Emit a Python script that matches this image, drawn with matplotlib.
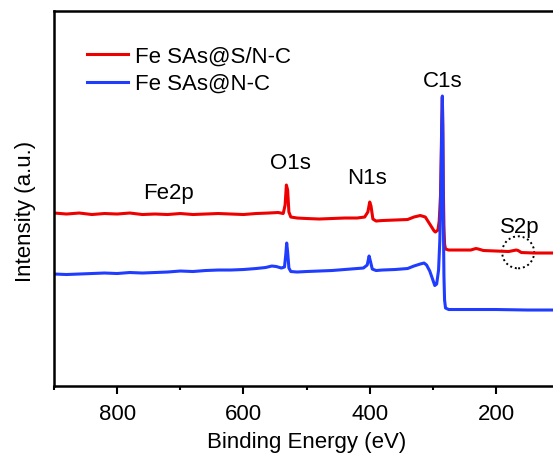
import matplotlib.pyplot as plt
import matplotlib.transforms as mtransforms
from matplotlib.patches import Circle

plt.rcParams['font.family'] = ['Liberation Sans', 'DejaVu Sans']

# binding energy (eV) and intensity (a.u.)
energy_sn = [900, 880, 860, 840, 820, 800, 780, 760, 740, 720, 700, 680, 660, 640,
             620, 600, 580, 560, 545, 537, 534, 532, 530, 528, 525, 515, 500, 480,
             460, 440, 420, 408, 403, 400, 398, 395, 390, 380, 360, 340, 330, 320,
             312, 305, 298, 296, 292, 290, 288, 287, 286, 285, 284.3, 283.5, 282.5,
             281.5, 280, 275, 260, 240, 232, 228, 220, 200, 180, 168, 165, 160, 140,
             120, 110]
inten_sn = [173, 172, 173, 171.5, 172.5, 172, 173, 171.5, 172, 171.5, 172.5, 171.5,
            172, 172.5, 172, 171.5, 172.5, 173, 173.5, 172.5, 181, 201, 196, 174,
            169, 168, 167.5, 167, 167.5, 168, 168, 169, 174, 184, 180, 167, 165,
            165.5, 166, 166.5, 169, 170.5, 169, 162, 155, 154, 156, 165, 190, 225,
            262, 289, 260, 200, 160, 142, 137, 136, 136, 136, 137.5, 137, 135.5,
            135, 134.5, 136, 135.5, 133.5, 133, 133, 133]

energy_n = [900, 880, 860, 840, 820, 800, 780, 760, 740, 720, 700, 680, 660, 640,
            620, 600, 580, 565, 555, 548, 540, 535, 533, 531.5, 530, 528, 525, 515,
            500, 480, 460, 440, 420, 410, 404, 401, 399, 396, 390, 380, 360, 340,
            330, 320, 314, 310, 305, 300, 297, 294, 291, 289, 287, 286, 285, 284.3,
            283.5, 282.5, 281.5, 280, 275, 250, 200, 150, 110]
inten_n = [112, 111.5, 112, 112.5, 113, 112.5, 113.5, 113, 113.5, 114, 115, 114.5,
           115.5, 116, 116, 116.5, 117.5, 118.5, 120, 119.5, 118, 119, 131, 143,
           134, 118, 114.5, 114, 114.5, 115, 115.5, 116.5, 117.5, 118, 121, 130,
           125, 117, 115.5, 116, 116.5, 117.5, 120, 122, 123, 121, 115, 106, 100.5,
           102, 116, 146, 206, 256, 290, 250, 170, 110, 86, 78, 76.5, 76.5, 76.5,
           76, 76]

series_labels = ['Fe SAs@S/N-C', 'Fe SAs@N-C']
series_colors = ['#ee0000', '#1f3cff']

fig = plt.figure(figsize=(5.53, 4.59), dpi=100)
ax = fig.add_axes([0.0976, 0.159, 0.9136, 0.817])

ax.plot(energy_sn, inten_sn, color=series_colors[0], lw=2.2, label=series_labels[0])
ax.plot(energy_n, inten_n, color=series_colors[1], lw=2.2, label=series_labels[1])

ax.set_xlim(900, 100)
ax.set_ylim(0, 375)
ax.set_xticks([800, 600, 400, 200])
ax.set_xticks([900, 700, 500, 300], minor=True)
ax.set_yticks([])
ax.tick_params(axis='x', which='major', direction='out', length=6, width=1.5,
               labelsize=16, pad=7)
ax.tick_params(axis='x', which='minor', direction='out', length=3, width=1.5)
for s in ax.spines.values():
    s.set_linewidth(1.8)

ax.set_xlabel('Binding Energy (eV)', fontsize=16, labelpad=5)
ax.set_ylabel('Intensity (a.u.)', fontsize=16)
ax.yaxis.set_label_coords(-0.036, 0.465)

# peak labels
ax.text(284, 305, 'C1s', fontsize=16, ha='center', va='center')
ax.text(525, 223, 'O1s', fontsize=16, ha='center', va='center')
ax.text(405, 208, 'N1s', fontsize=16, ha='center', va='center')
ax.text(718, 193, 'Fe2p', fontsize=16, ha='center', va='center')
ax.text(162, 159, 'S2p', fontsize=16, ha='center', va='center')

# dotted circle around the S2p bump
trans = fig.dpi_scale_trans + mtransforms.ScaledTranslation(165, 133.7, ax.transData)
ax.add_patch(Circle((0, 0), 0.16, transform=trans, fill=False, ec='black',
                    ls=(0, (1, 1.5)), lw=1.4))

ax.legend(loc='upper left', bbox_to_anchor=(0.065, 0.906), frameon=False,
          fontsize=16, handlelength=1.85, handletextpad=0.3, labelspacing=0.28,
          borderpad=0, borderaxespad=0)

fig.savefig('out.png', dpi=100)
